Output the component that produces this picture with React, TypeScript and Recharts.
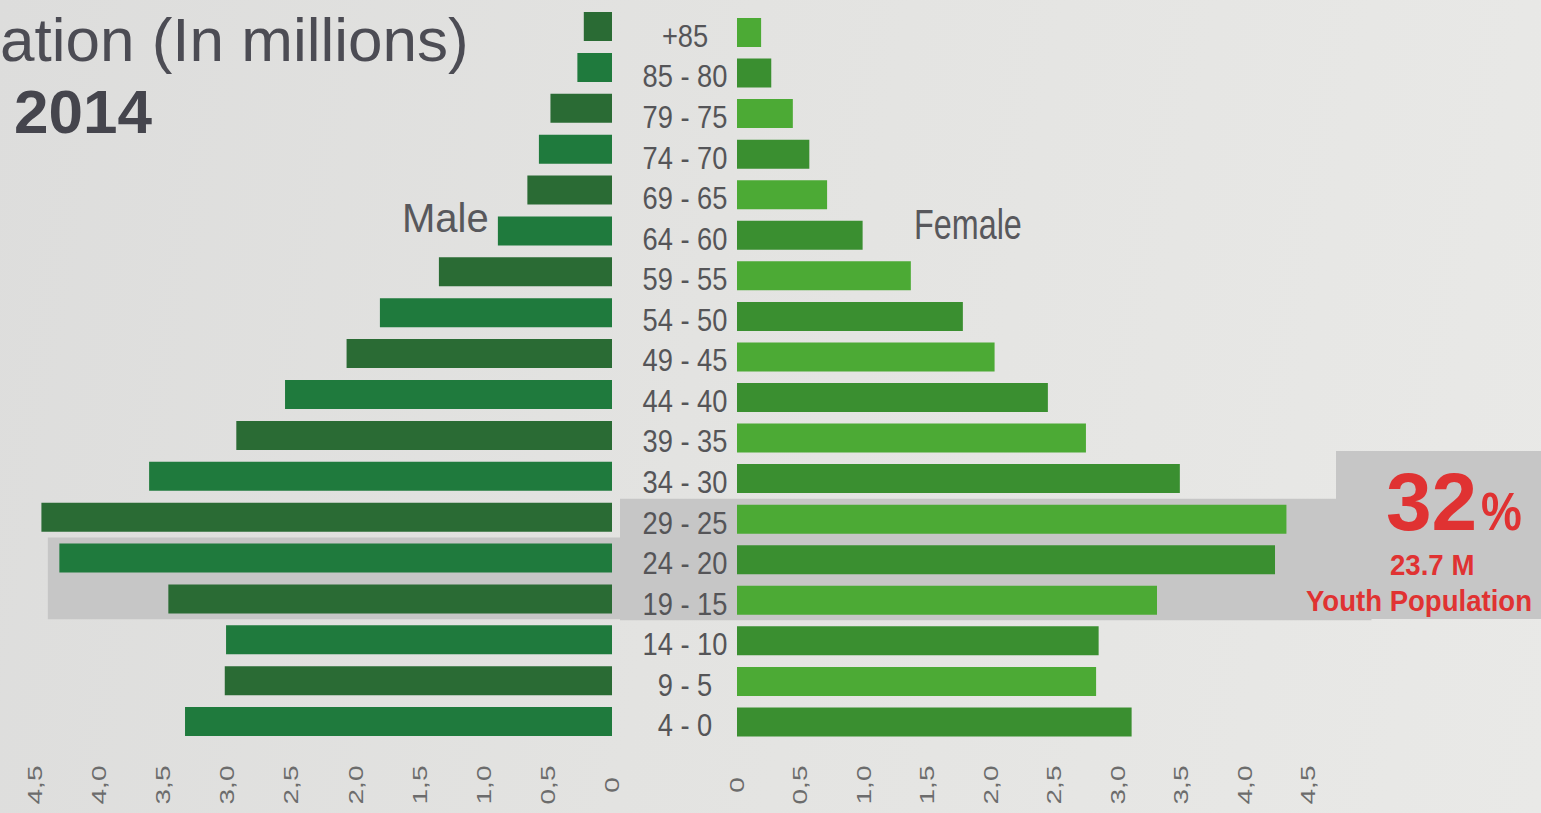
import React from "react";
import { BarChart, Bar, XAxis, YAxis, Cell, ReferenceArea } from "recharts";

const ageGroups = ["+85", "85 - 80", "79 - 75", "74 - 70", "69 - 65", "64 - 60", "59 - 55", "54 - 50", "49 - 45", "44 - 40", "39 - 35", "34 - 30", "29 - 25", "24 - 20", "19 - 15", "14 - 10", "9 - 5", "4 - 0"];
const maleValues = [0.22, 0.27, 0.48, 0.57, 0.66, 0.89, 1.35, 1.81, 2.07, 2.55, 2.93, 3.61, 4.45, 4.31, 3.46, 3.01, 3.02, 3.33];
const femaleValues = [0.19, 0.27, 0.44, 0.57, 0.71, 0.99, 1.37, 1.78, 2.03, 2.45, 2.75, 3.49, 4.33, 4.24, 3.31, 2.85, 2.83, 3.11];
const xTicks = [0, 0.5, 1, 1.5, 2, 2.5, 3, 3.5, 4, 4.5];

const maleColors = ["#2a6b34", "#1f7a3d"];
const femaleColors = ["#4caa35", "#3a8f30"];

const data = ageGroups.map((age, i) => ({ age, male: maleValues[i], female: femaleValues[i] }));

const FONT = "'Liberation Sans', Arial, sans-serif";
const BAND = "#c6c6c6";

const fmt = (v: number) => (v === 0 ? "0" : v.toFixed(1).replace(".", ","));

const XTick = (props: any) => {
  const { x, y, payload } = props;
  const cy = y + 35;
  return (
    <text
      x={0}
      y={0}
      transform={`translate(${x}, ${cy}) rotate(-90) scale(1.4, 1)`}
      textAnchor="middle"
      dominantBaseline="central"
      fill="#6c6c6c"
      fontSize={20}
      fontFamily={FONT}
    >
      {fmt(payload.value)}
    </text>
  );
};

const YTick = (props: any) => {
  const { x, y, payload } = props;
  return (
    <text
      x={0}
      y={0}
      transform={`translate(${x - 44}, ${y + 4}) scale(0.88, 1)`}
      textAnchor="middle"
      dominantBaseline="central"
      fill="#555558"
      fontSize={31}
      fontFamily={FONT}
    >
      {payload.value}
    </text>
  );
};

const abs = (left: number, top: number, extra: React.CSSProperties): React.CSSProperties => ({
  position: "absolute",
  left,
  top,
  whiteSpace: "nowrap",
  transformOrigin: "left top",
  ...extra,
});

export default function App() {
  return (
    <div
      style={{
        position: "fixed",
        left: 0,
        top: 0,
        width: 1541,
        height: 813,
        overflow: "hidden",
        background: "linear-gradient(100deg, #dddddc 0%, #e3e3e1 45%, #e9e9e7 100%)",
        fontFamily: FONT,
      }}
    >
      <div style={{ position: "absolute", left: 1336, top: 451, width: 205, height: 168, background: BAND }} />

      <div style={{ position: "absolute", left: 0, top: 0 }}>
        <BarChart
          layout="vertical"
          width={640}
          height={812}
          data={data}
          margin={{ top: 6, right: 28, bottom: 0, left: 35 }}
          barSize={29}
        >
          <ReferenceArea y1="24 - 20" y2="19 - 15" x1={-0.07} x2={4.4} fill={BAND} fillOpacity={1} stroke="none" ifOverflow="visible" />
          <XAxis
            type="number"
            domain={[0, 4.5]}
            ticks={xTicks}
            reversed
            axisLine={false}
            tickLine={false}
            height={70}
            interval={0}
            tick={<XTick />}
          />
          <YAxis type="category" dataKey="age" hide />
          <Bar dataKey="male" isAnimationActive={false}>
            {data.map((d, i) => (
              <Cell key={d.age} fill={maleColors[i % 2]} />
            ))}
          </Bar>
        </BarChart>
      </div>

      <div style={{ position: "absolute", left: 620, top: 0 }}>
        <BarChart
          layout="vertical"
          width={921}
          height={812}
          data={data}
          margin={{ top: 12, right: 233, bottom: 0, left: 0 }}
          barSize={29}
        >
          <ReferenceArea y1="29 - 25" y2="19 - 15" x1={-0.93} x2={5.0} fill={BAND} fillOpacity={1} stroke="none" ifOverflow="visible" />
          <XAxis
            type="number"
            domain={[0, 4.5]}
            ticks={xTicks}
            axisLine={false}
            tickLine={false}
            height={70}
            interval={0}
            tick={<XTick />}
          />
          <YAxis
            type="category"
            dataKey="age"
            width={117}
            axisLine={false}
            tickLine={false}
            interval={0}
            tick={<YTick />}
          />
          <Bar dataKey="female" isAnimationActive={false}>
            {data.map((d, i) => (
              <Cell key={d.age} fill={femaleColors[i % 2]} />
            ))}
          </Bar>
        </BarChart>
      </div>

      <div style={abs(0, 5, { fontSize: 62, lineHeight: "70px", color: "#4c4c54" })}>ation (In millions)</div>
      <div style={abs(14, 79, { fontSize: 62, lineHeight: "66px", fontWeight: "bold", color: "#45454d" })}>2014</div>
      <div style={abs(402, 197, { fontSize: 40, lineHeight: "42px", color: "#58585c" })}>Male</div>
      <div style={abs(914, 203, { fontSize: 42, lineHeight: "44px", color: "#58585c", transform: "scaleX(0.77)" })}>Female</div>

      <div style={abs(1386, 461, { fontSize: 82, lineHeight: "82px", fontWeight: "bold", color: "#e03232" })}>32</div>
      <div style={abs(1481, 484, { fontSize: 54, lineHeight: "54px", fontWeight: "bold", color: "#e03232", transform: "scaleX(0.85)" })}>%</div>
      <div style={abs(1390, 550, { fontSize: 30, lineHeight: "30px", fontWeight: "bold", color: "#e03232", transform: "scaleX(0.92)" })}>23.7 M</div>
      <div style={abs(1306, 587, { fontSize: 29, lineHeight: "29px", fontWeight: "bold", color: "#e03232", transform: "scaleX(0.95)" })}>Youth Population</div>
    </div>
  );
}
